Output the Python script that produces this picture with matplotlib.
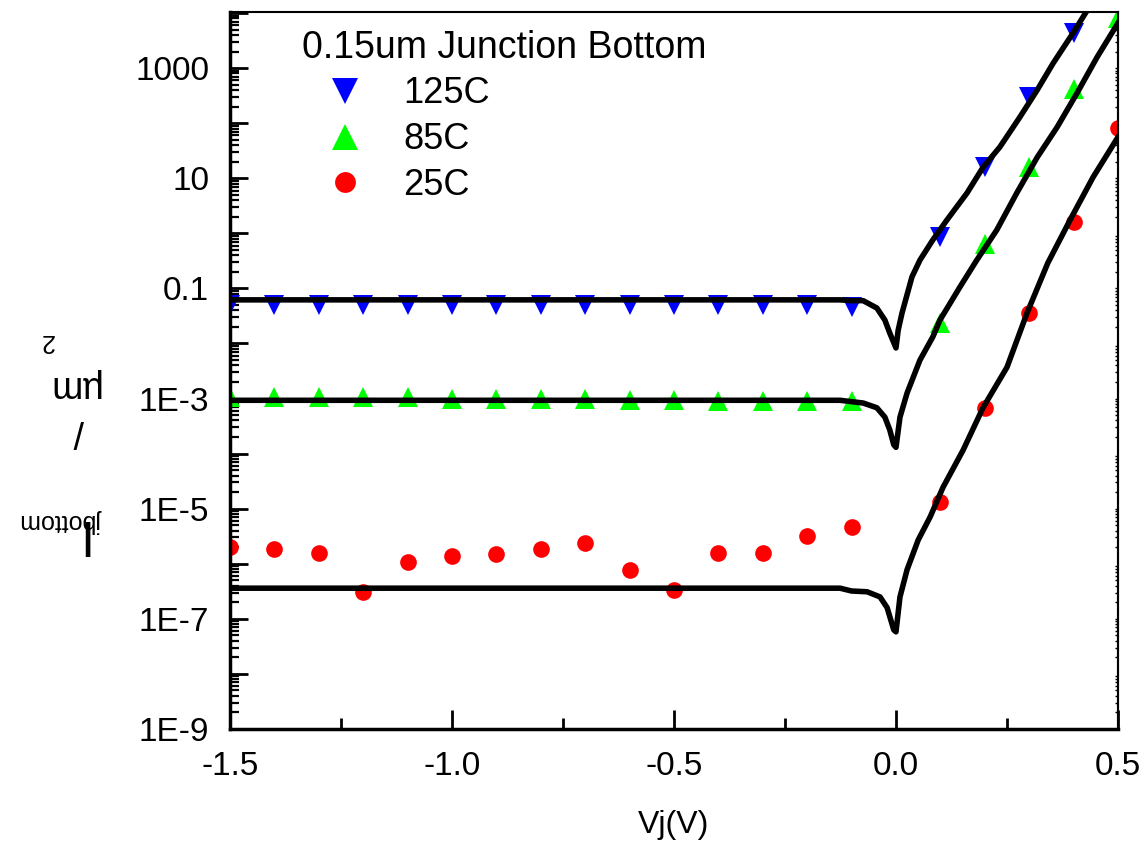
import matplotlib.pyplot as plt
from matplotlib.ticker import FixedLocator, LogLocator, MultipleLocator, NullFormatter
import numpy as np

plt.rcParams['font.family'] = ['Liberation Sans', 'DejaVu Sans']

# measured points (reverse bias, then forward bias)
v_rev = [-1.5, -1.4, -1.3, -1.2, -1.1, -1.0, -0.9, -0.8, -0.7, -0.6, -0.5, -0.4, -0.3, -0.2, -0.1]
v_fwd_125 = [0.1, 0.2, 0.3, 0.4]
v_fwd = [0.1, 0.2, 0.3, 0.4, 0.5]

i125_rev = [0.051, 0.051, 0.051, 0.051, 0.051, 0.051, 0.051, 0.051,
            0.051, 0.051, 0.051, 0.051, 0.051, 0.051, 0.046]
i125_fwd = [0.85, 15.9, 296, 4350]

i85_rev = [1.07e-3, 1.07e-3, 1.07e-3, 1.07e-3, 1.07e-3, 1.0e-3, 1.0e-3, 1.0e-3,
           9.7e-4, 9.5e-4, 9.3e-4, 9.0e-4, 9.0e-4, 9.0e-4, 9.0e-4]
i85_fwd = [0.0234, 0.64, 15.9, 415, 8000]

i25_rev = [2.0e-6, 1.85e-6, 1.56e-6, 3.1e-7, 1.07e-6, 1.38e-6, 1.5e-6, 1.85e-6,
           2.4e-6, 7.8e-7, 3.3e-7, 1.56e-6, 1.6e-6, 3.2e-6, 4.6e-6]
i25_fwd = [1.32e-5, 6.8e-4, 0.0355, 1.6, 81]

# model fits
fit125_v = [-1.5, -0.126, -0.10, -0.074, -0.043, -0.025, -0.014, 0.0, 0.005, 0.0135,
            0.036, 0.054, 0.083, 0.115, 0.16, 0.196, 0.234, 0.279, 0.318, 0.354, 0.399, 0.43]
fit125_i = [0.062, 0.062, 0.060, 0.060, 0.044, 0.0266, 0.0155, 0.0083, 0.0175, 0.0355,
            0.162, 0.327, 0.76, 1.76, 5.4, 15.8, 37, 129, 400, 1230, 4370, 11000]

fit85_v = [-1.5, -0.126, -0.074, -0.043, -0.025, -0.014, -0.005, 0.0, 0.009, 0.025,
           0.054, 0.083, 0.099, 0.144, 0.182, 0.227, 0.272, 0.318, 0.363, 0.408, 0.453, 0.5]
fit85_i = [9.3e-4, 9.3e-4, 8.3e-4, 6.8e-4, 4.6e-4, 2.7e-4, 1.45e-4, 1.3e-4, 4.6e-4, 1.26e-3,
           5.0e-3, 0.0132, 0.0266, 0.106, 0.327, 1.15, 5.4, 24, 85, 355, 1585, 6600]

fit25_v = [-1.5, -0.126, -0.10, -0.065, -0.036, -0.02, -0.005, 0.0, 0.009, 0.025, 0.05,
           0.077, 0.106, 0.151, 0.196, 0.25, 0.295, 0.342, 0.392, 0.444, 0.5]
fit25_i = [3.6e-7, 3.6e-7, 3.2e-7, 3.1e-7, 2.5e-7, 1.6e-7, 6.3e-8, 5.8e-8, 2.5e-7, 7.8e-7, 2.7e-6,
           7.1e-6, 2.45e-5, 1.15e-4, 6.8e-4, 3.7e-3, 0.0355, 0.29, 1.74, 10.5, 56]

ytick_vals = [1e-9, 1e-8, 1e-7, 1e-6, 1e-5, 1e-4, 1e-3, 1e-2, 0.1, 1, 10, 100, 1000, 1e4]
ytick_labels = ['1E-9', '', '1E-7', '', '1E-5', '', '1E-3', '', '0.1', '', '10', '', '1000', '']
xtick_vals = [-1.5, -1.0, -0.5, 0.0, 0.5]

fig = plt.figure(figsize=(11.47, 8.5), dpi=100)
ax = fig.add_axes([0.2005, 0.1424, 0.7742, 0.8435])

ms_tri = 15
ms_dot = 12
h125, = ax.plot(v_rev + v_fwd_125, i125_rev + i125_fwd, 'v', color='#0000ff',
                ms=ms_tri, mew=0, label='125C', zorder=2)
h85, = ax.plot(v_rev + v_fwd, i85_rev + i85_fwd, '^', color='#00ff00',
               ms=ms_tri, mew=0, label='85C', zorder=2)
h25, = ax.plot(v_rev + v_fwd, i25_rev + i25_fwd, 'o', color='#ff0000',
               ms=ms_dot, mew=0, label='25C', zorder=2)

for fv, fi in [(fit125_v, fit125_i), (fit85_v, fit85_i), (fit25_v, fit25_i)]:
    ax.plot(fv, fi, color='black', lw=4, solid_joinstyle='round', zorder=3)

ax.set_yscale('log')
ax.set_xlim(-1.5, 0.5)
ax.set_ylim(1e-9, 10 ** 4.02)

ax.yaxis.set_major_locator(FixedLocator(ytick_vals))
ax.set_yticklabels(ytick_labels)
ax.yaxis.set_minor_locator(LogLocator(base=10, subs=np.arange(2, 10), numticks=30))
ax.yaxis.set_minor_formatter(NullFormatter())
ax.set_xticks(xtick_vals)
ax.set_xticklabels([f'{v:.1f}' for v in xtick_vals])
ax.xaxis.set_minor_locator(MultipleLocator(0.25))

ax.tick_params(axis='y', which='major', direction='in', length=13, width=2,
               labelsize=24, pad=15, right=False)
ax.tick_params(axis='y', which='minor', direction='in', length=6.5, width=1.6, right=False)
ax.tick_params(axis='x', which='major', direction='in', length=14, width=2,
               labelsize=24, pad=16, top=False)
ax.tick_params(axis='x', which='minor', direction='in', length=8, width=2, top=False)

for side in ['left', 'bottom']:
    ax.spines[side].set_linewidth(2.5)
for side in ['top', 'right']:
    ax.spines[side].set_linewidth(1.5)

sec = ax.secondary_yaxis('right', functions=(lambda y: y, lambda y: y))
sec.tick_params(which='both', direction='in', length=2.5, width=1, labelright=False)
sec.yaxis.set_minor_locator(LogLocator(base=10, subs=np.arange(2, 10), numticks=30))
sec.yaxis.set_minor_formatter(NullFormatter())
sec.spines['right'].set_linewidth(1.5)

ax.set_xlabel('Vj(V)', fontsize=23)
ax.xaxis.set_label_coords(0.5, -0.113)

leg = ax.legend(handles=[h125, h85, h25], title='0.15um Junction Bottom',
                loc='upper left', bbox_to_anchor=(0.071, 0.988), frameon=False,
                fontsize=26, title_fontsize=27, alignment='left', markerscale=1.25,
                handlelength=2.4, handletextpad=0.4, labelspacing=0.3, borderpad=0.25,
                borderaxespad=0)

# y label, drawn piece by piece upside down as in the original
fig.text(0.0689, 0.3729, 'I', fontsize=36, rotation=180, ha='center', va='center')
fig.text(0.054, 0.387, 'jbottom', fontsize=18, rotation=180, ha='center', va='center')
fig.text(0.0689, 0.494, '/', fontsize=27, rotation=180, ha='center', va='center')
fig.text(0.0636, 0.546, 'µm', fontsize=27, rotation=180, ha='center', va='center')
fig.text(0.041, 0.599, '2', fontsize=18, rotation=180, ha='center', va='center')

fig.savefig('out.png', dpi=100)
